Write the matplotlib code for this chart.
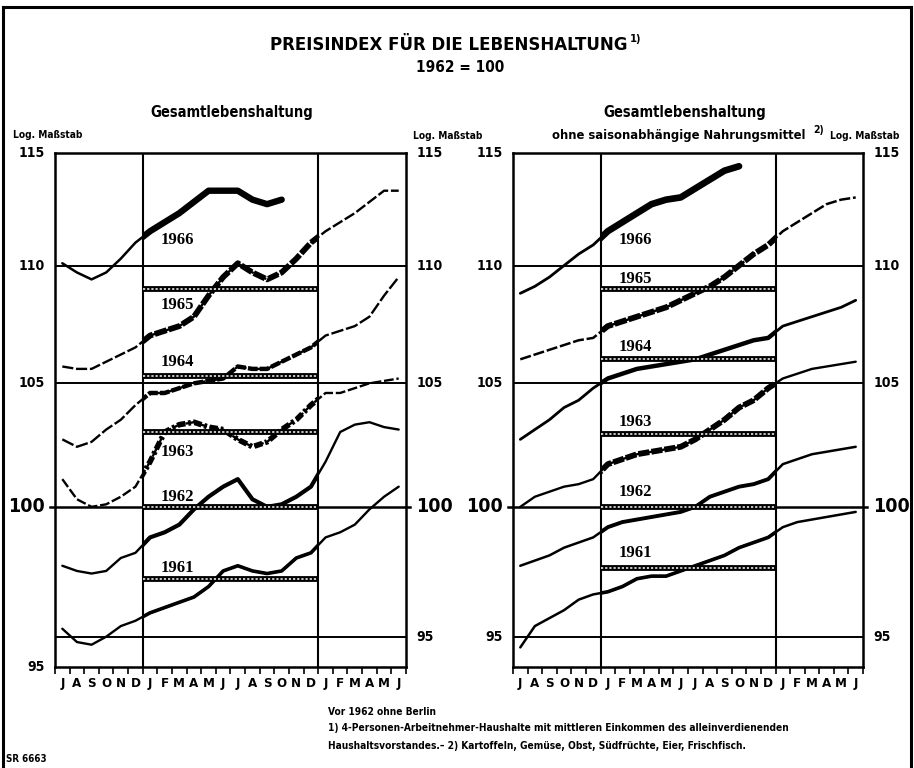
import matplotlib
matplotlib.use("Agg")
import matplotlib.pyplot as plt
from matplotlib.patches import Rectangle
from matplotlib.lines import Line2D
import numpy as np

plt.rcParams['lines.scale_dashes'] = False

# Monate Juli bis Juni des Folgejahres (2 Jahre)
monate = ["J", "A", "S", "O", "N", "D", "J", "F", "M", "A", "M", "J",
          "J", "A", "S", "O", "N", "D", "J", "F", "M", "A", "M", "J"]
jahre = [1961, 1962, 1963, 1964, 1965, 1966]

# Monatswerte Juli 1960 bis Oktober 1966, 1962 = 100
gesamt = [
    95.3, 94.8, 94.7, 95.0, 95.4, 95.6, 95.9, 96.1, 96.3, 96.5, 96.9, 97.5,
    97.7, 97.5, 97.4, 97.5, 98.0, 98.2, 98.8, 99.0, 99.3, 99.9, 100.4, 100.8,
    101.1, 100.3, 100.0, 100.1, 100.4, 100.8, 101.8, 103.0, 103.3, 103.4, 103.2, 103.1,
    102.7, 102.4, 102.6, 103.1, 103.5, 104.1, 104.6, 104.6, 104.8, 105.0, 105.1, 105.2,
    105.7, 105.6, 105.6, 105.9, 106.2, 106.5, 107.0, 107.2, 107.4, 107.8, 108.7, 109.5,
    110.1, 109.7, 109.4, 109.7, 110.3, 111.0, 111.5, 111.9, 112.3, 112.8, 113.3, 113.3,
    113.3, 112.9, 112.7, 112.9,
]
ohne_saison = [
    94.6, 95.4, 95.7, 96.0, 96.4, 96.6, 96.7, 96.9, 97.2, 97.3, 97.3, 97.5,
    97.7, 97.9, 98.1, 98.4, 98.6, 98.8, 99.2, 99.4, 99.5, 99.6, 99.7, 99.8,
    100.0, 100.4, 100.6, 100.8, 100.9, 101.1, 101.7, 101.9, 102.1, 102.2, 102.3, 102.4,
    102.7, 103.1, 103.5, 104.0, 104.3, 104.8, 105.2, 105.4, 105.6, 105.7, 105.8, 105.9,
    106.0, 106.2, 106.4, 106.6, 106.8, 106.9, 107.4, 107.6, 107.8, 108.0, 108.2, 108.5,
    108.8, 109.1, 109.5, 110.0, 110.5, 110.9, 111.5, 111.9, 112.3, 112.7, 112.9, 113.0,
    113.4, 113.8, 114.2, 114.4,
]

# Jahresdurchschnitte 1961-1965
mittel_gesamt = [97.2, 100.0, 103.0, 105.3, 109.0]
mittel_ohne = [97.6, 100.0, 102.9, 106.0, 109.0]

# Lage der Jahreszahlen
pos_gesamt = [97.6, 100.4, 102.2, 105.9, 108.3, 111.1]
pos_ohne = [98.2, 100.6, 103.4, 106.5, 109.4, 111.1]

# (Linie Jul-Dez/Jan-Jun, Breite, Linie im Jahr, Breite)
stil_gesamt = [
    ('-', 1.7, '-', 2.6),
    ('-', 1.7, '-', 3.0),
    ((0, (7, 2)), 1.7, (0, (6, 2, 2, 2)), 4.0),
    ((0, (9, 2)), 1.7, (0, (7, 1.5)), 3.2),
    ((0, (8, 2)), 1.7, (0, (9, 1.5)), 4.2),
    ('-', 1.8, '-', 4.6),
]
stil_ohne = [
    ('-', 1.8, '-', 2.6),
    ('-', 1.8, '-', 2.8),
    ('-', 1.7, (0, (8, 1.5)), 4.2),
    ('-', 2.0, '-', 3.2),
    ((0, (8, 2)), 1.8, (0, (9, 1.5)), 4.2),
    ('-', 2.0, '-', 4.8),
]

SCHRIFT = dict(family='DejaVu Sans', fontstretch='condensed', fontweight='bold')
YMIN, YMAX = 93.87, 115.0

fig = plt.figure(figsize=(9.14, 7.68), dpi=100)


def fx(px):
    return px / 914


def fy(py):
    return 1 - py / 768


def zeichne(ax, werte, mittel, stile, pos, links_95_unten):
    ax.set_yscale('log')
    ax.set_xlim(0, 24)
    ax.set_ylim(YMIN, YMAX)
    ax.minorticks_off()

    x = np.arange(24) + 0.5
    for k, jahr in enumerate(jahre):
        y = werte[12 * k:12 * k + 24]
        xs = x[:len(y)]
        ls_a, lw_a, ls_i, lw_i = stile[k]
        ax.plot(xs, y, color='black', ls=ls_a, lw=lw_a, solid_capstyle='round', zorder=3)
        dick, = ax.plot(xs, y, color='black', ls=ls_i, lw=lw_i, solid_capstyle='round', zorder=4)
        dick.set_clip_path(Rectangle((6, 80), 12, 50, transform=ax.transData))
        ax.text(7.25, pos[k], str(jahr), ha='left', va='center', fontsize=12,
                family='Liberation Serif', fontweight='bold', zorder=6)

    # Jahresdurchschnitte als schraffierte Balken
    for m in mittel:
        ax.plot([6, 18], [m, m], color='black', lw=4.2, solid_capstyle='butt', zorder=5)
        ax.plot([6, 18], [m, m], color='white', lw=1.1, ls=(0, (1.6, 1.4)), zorder=5)

    for v in [95, 105, 110]:
        ax.axhline(v, color='black', lw=1.4, zorder=2)
    ax.plot([-0.015, 1.012], [100, 100], color='black', lw=1.8, zorder=2,
            transform=ax.get_yaxis_transform(), clip_on=False)
    for v in [6, 18]:
        ax.axvline(v, color='black', lw=1.5, zorder=2)

    for s in ax.spines.values():
        s.set_linewidth(1.8)

    ax.set_yticks([])
    ax.set_xticks(range(25))
    ax.set_xticklabels([])
    ax.tick_params(axis='x', which='major', direction='out', length=5, width=1.2)
    ax.set_xticks(x, minor=True)
    ax.set_xticklabels(monate, minor=True, fontsize=9.5, **SCHRIFT)
    ax.tick_params(axis='x', which='minor', length=0, pad=7)

    # Skalenbeschriftung beiderseits
    tr = ax.get_yaxis_transform()
    for v in [115, 110, 105, 100, 95]:
        gross = v == 100
        fs = 14 if gross else 10
        ylinks = YMIN if (v == 95 and links_95_unten) else v
        ax.text(-0.028, ylinks, str(v), transform=tr, ha='right', va='center',
                fontsize=fs, **SCHRIFT)
        ax.text(1.03, v, str(v), transform=tr, ha='left', va='center',
                fontsize=fs, **SCHRIFT)


ax1 = fig.add_axes([fx(55), 101 / 768, 351 / 914, 514 / 768])
ax2 = fig.add_axes([fx(513), 101 / 768, 350 / 914, 514 / 768])
zeichne(ax1, gesamt, mittel_gesamt, stil_gesamt, pos_gesamt, True)
zeichne(ax2, ohne_saison, mittel_ohne, stil_ohne, pos_ohne, False)

# Überschriften
fig.text(fx(449), fy(45), "PREISINDEX FÜR DIE LEBENSHALTUNG", ha='center', va='center',
         fontsize=12, family='DejaVu Sans', fontweight='bold')
fig.text(fx(630), fy(39), "1)", ha='left', va='center', fontsize=8, **SCHRIFT)
fig.text(fx(460), fy(68), "1962 = 100", ha='center', va='center', fontsize=11, **SCHRIFT)

fig.text(fx(232), fy(113), "Gesamtlebenshaltung", ha='center', va='center', fontsize=10.5, **SCHRIFT)
fig.text(fx(685), fy(112), "Gesamtlebenshaltung", ha='center', va='center', fontsize=10.5, **SCHRIFT)
fig.text(fx(552), fy(135), "ohne saisonabhängige Nahrungsmittel", ha='left', va='center',
         fontsize=9.3, **SCHRIFT)
fig.text(fx(813), fy(130), "2)", ha='left', va='center', fontsize=7.5, **SCHRIFT)

for x0, y0 in [(13, 135), (413, 136), (830, 136)]:
    fig.text(fx(x0), fy(y0), "Log. Maßstab", ha='left', va='center', fontsize=7.3, **SCHRIFT)

# Fußnoten
fig.text(fx(328), fy(712), "Vor 1962 ohne Berlin", ha='left', va='center', fontsize=7.3, **SCHRIFT)
fig.text(fx(328), fy(728),
         "1) 4-Personen-Arbeitnehmer-Haushalte mit mittleren Einkommen des alleinverdienenden",
         ha='left', va='center', fontsize=7.3, **SCHRIFT)
fig.text(fx(328), fy(746),
         "Haushaltsvorstandes.– 2) Kartoffeln, Gemüse, Obst, Südfrüchte, Eier, Frischfisch.",
         ha='left', va='center', fontsize=7.3, **SCHRIFT)
fig.text(fx(6), fy(759), "SR 6663", ha='left', va='center', fontsize=7, **SCHRIFT)

# Rahmen um das Blatt
for xs, ys in [([3, 911], [7, 7]), ([3, 3], [7, 768]), ([911, 911], [7, 768])]:
    fig.add_artist(Line2D([fx(v) for v in xs], [fy(v) for v in ys], color='black', lw=2.2))

fig.savefig("out.png", dpi=100, facecolor='white')
